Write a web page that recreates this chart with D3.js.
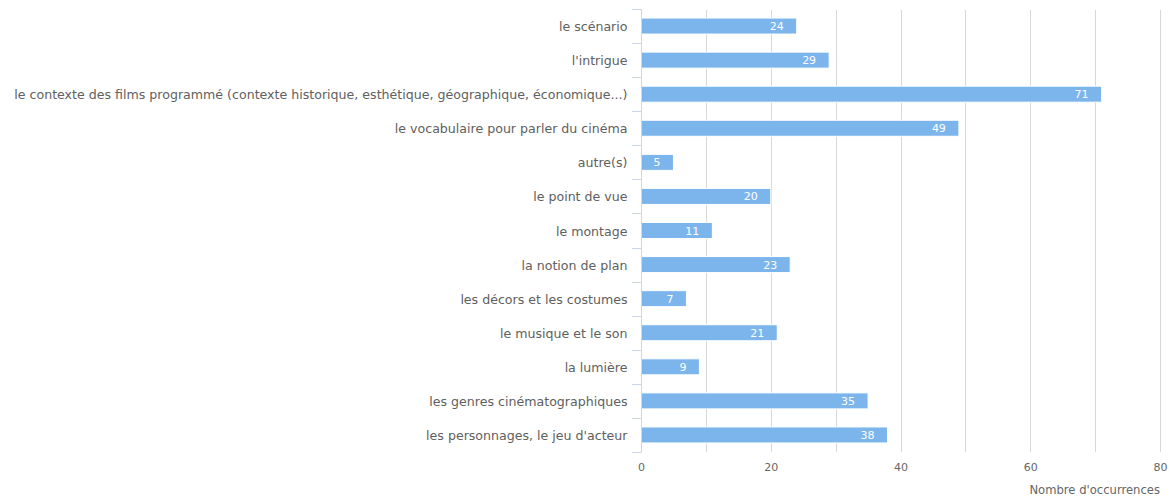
<!DOCTYPE html>
<html><head><meta charset="utf-8">
<script src="https://cdn.jsdelivr.net/npm/d3@7"></script>
<style>body{margin:0;background:#fff;}svg{display:block;}</style>
</head><body>
<script>
const categories = [
  "le scénario",
  "l'intrigue",
  "le contexte des films programmé (contexte historique, esthétique, géographique, économique...)",
  "le vocabulaire pour parler du cinéma",
  "autre(s)",
  "le point de vue",
  "le montage",
  "la notion de plan",
  "les décors et les costumes",
  "le musique et le son",
  "la lumière",
  "les genres cinématographiques",
  "les personnages, le jeu d'acteur"
];
const values = [24, 29, 71, 49, 5, 20, 11, 23, 7, 21, 9, 35, 38];
const xTicks = [0, 20, 40, 60, 80];
const gridTicks = [0, 10, 20, 30, 40, 50, 60, 70, 80];
const axisTitle = "Nombre d'occurrences";

const W = 1170, H = 497;
const pLeft = 641, pRight = 1160, pTop = 9, pBottom = 452;
const font = "Verdana, 'DejaVu Sans', sans-serif";

const svg = d3.select("body").append("svg").attr("width", W).attr("height", H);
const x = d3.scaleLinear().domain([0, 80]).range([pLeft, pRight]);
const y = d3.scaleBand().domain(categories).range([pTop, pBottom]).paddingInner(0).paddingOuter(0);

// grid
svg.append("g").selectAll("line").data(gridTicks.filter(d => d > 0)).join("line")
  .attr("x1", d => Math.round(x(d)) + 0.5).attr("x2", d => Math.round(x(d)) + 0.5)
  .attr("y1", pTop + 1).attr("y2", pBottom)
  .attr("stroke", "#d8d8d8").attr("stroke-width", 1);

// bars
const barH = 16;
svg.append("g").selectAll("rect").data(values).join("rect")
  .attr("x", x(0))
  .attr("y", (d, i) => y(categories[i]) + y.bandwidth() / 2 - barH / 2)
  .attr("width", d => x(d) - x(0))
  .attr("height", barH)
  .attr("fill", "#7cb5ec")
  .attr("stroke", "#ffffff").attr("stroke-width", 1);

// data labels
svg.append("g").selectAll("text").data(values).join("text")
  .attr("x", d => x(d) - 13)
  .attr("y", (d, i) => y(categories[i]) + y.bandwidth() / 2 + 4)
  .attr("text-anchor", "end")
  .attr("font-family", font).attr("font-size", 11)
  .attr("fill", "#ffffff")
  .text(d => d);

// category axis
const yAxis = svg.append("g").attr("transform", `translate(${pLeft + 0.5},0)`)
  .call(d3.axisLeft(y).tickSize(0).tickPadding(14));
yAxis.select(".domain").attr("stroke", "#ccd6eb").attr("d", `M0,${pTop}V${pBottom}`);
yAxis.selectAll("text").attr("font-family", font).attr("font-size", 12.6).attr("fill", "#606060")
  .attr("dy", "0.4em");
// tick marks at band boundaries
const bounds = categories.map(c => y(c)).concat([pBottom]);
svg.append("g").selectAll("line").data(bounds).join("line")
  .attr("x1", pLeft - 9).attr("x2", pLeft + 0.5)
  .attr("y1", d => Math.round(d) + 0.5).attr("y2", d => Math.round(d) + 0.5)
  .attr("stroke", "#ccd6eb");

// x axis labels
const xAxis = svg.append("g").attr("transform", `translate(0,${pBottom})`)
  .call(d3.axisBottom(x).tickValues(xTicks).tickSize(0).tickPadding(11));
xAxis.select(".domain").remove();
xAxis.selectAll("text").attr("font-family", font).attr("font-size", 11).attr("fill", "#666666");

svg.append("text")
  .attr("x", pRight).attr("y", 494)
  .attr("text-anchor", "end")
  .attr("font-family", font).attr("font-size", 11.6).attr("fill", "#666666")
  .text(axisTitle);
</script>
</body></html>
